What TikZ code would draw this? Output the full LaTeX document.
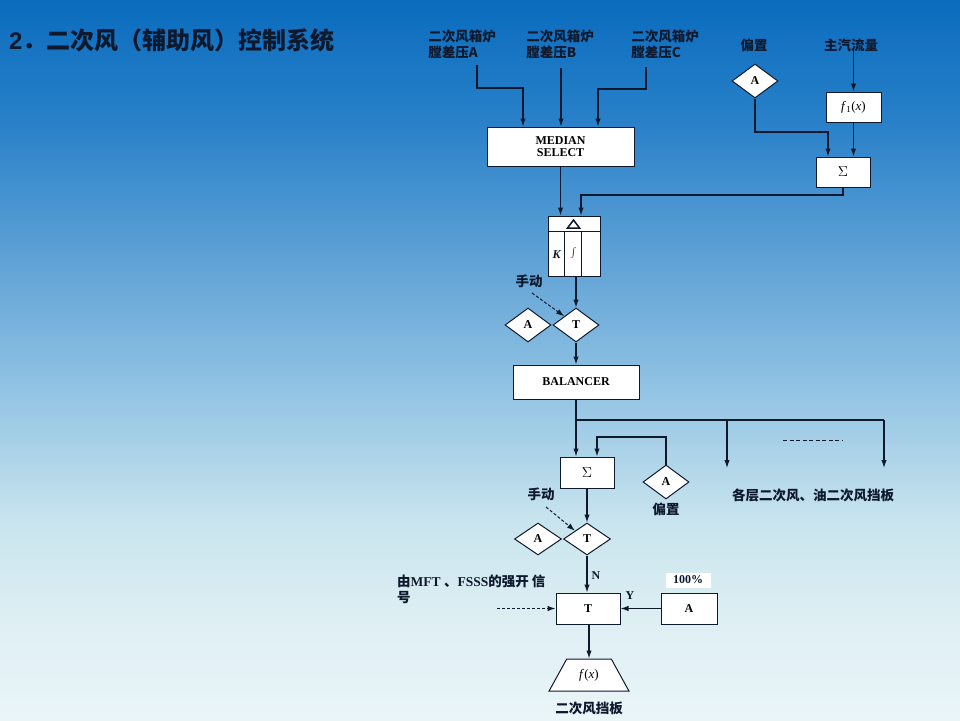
\documentclass[tikz,border=0pt]{standalone}
\usepackage{fontspec}
\setmainfont{Liberation Serif}
\newfontfamily\cjk{Noto Sans CJK SC}
\newfontfamily\arial{Liberation Sans}
\usetikzlibrary{arrows.meta,shapes.geometric}
\definecolor{lc}{RGB}{15,25,45}
\definecolor{g0}{RGB}{10,108,190}
\definecolor{g1}{RGB}{40,128,200}
\definecolor{g2}{RGB}{95,162,214}
\definecolor{g3}{RGB}{150,198,228}
\definecolor{g4}{RGB}{200,228,238}
\definecolor{g5}{RGB}{222,239,243}
\definecolor{g6}{RGB}{234,245,248}
\tikzset{
  box/.style={draw=lc, fill=white, line width=1pt, inner sep=0pt, font=\bfseries\fontsize{12}{13}\selectfont, align=center},
  dia/.style={diamond, draw=lc, fill=white, line width=1pt, inner sep=0pt, minimum width=46pt, minimum height=34pt, font=\bfseries\fontsize{12}{13}\selectfont},
  lbl/.style={inner sep=0pt, font=\cjk\bfseries\fontsize{13.5}{16}\selectfont, text=lc, align=left},
  ltr/.style={inner sep=0pt, font=\bfseries\fontsize{12}{13}\selectfont, text=lc},
  arr/.style={draw=lc, line width=1.2pt, -{Latex[length=8pt,width=5.5pt]}},
  ln/.style={draw=lc, line width=1.2pt},
}
\begin{document}
\begin{tikzpicture}[x=1pt,y=-1pt]
% background
\useasboundingbox (0,0) rectangle (960,720);
\shade[top color=g0,bottom color=g1] (0,0) rectangle (960,120);
\shade[top color=g1,bottom color=g2] (0,120) rectangle (960,260);
\shade[top color=g2,bottom color=g3] (0,260) rectangle (960,400);
\shade[top color=g3,bottom color=g4] (0,400) rectangle (960,520);
\shade[top color=g4,bottom color=g5] (0,520) rectangle (960,620);
\shade[top color=g5,bottom color=g6] (0,620) rectangle (960,720);

% title
\node[anchor=west, inner sep=0pt, text=lc] (title) at (9,40) {\arial\bfseries\fontsize{24}{26}\selectfont 2{\cjk\bfseries\fontsize{24}{28}\selectfont ．二次风（辅助风）控制系统}};

% inputs
\node[lbl] (inA) at (462,44) {二次风箱炉\\膛差压A};
\node[lbl] (inB) at (560,44) {二次风箱炉\\膛差压B};
\node[lbl] (inC) at (665,44) {二次风箱炉\\膛差压C};
\node[box, minimum width=147pt, minimum height=39pt] (med) at (560.5,146.5) {MEDIAN\\[-1pt]SELECT};
\coordinate (aS) at (477,65);
\coordinate (bS) at (561,68);
\coordinate (cS) at (646,67);
\draw[arr] (aS) -- (477,88) -| ([xshift=-37.5pt]med.north);
\draw[arr] (bS) -- ([xshift=0.5pt]med.north);
\draw[arr] (cS) -- (646,89) -| ([xshift=37.5pt]med.north);

% top right
\node[lbl] (bias1) at (754,45) {偏置};
\node[lbl] (ms) at (851,45) {主汽流量};
\node[dia] (A0) at (755,81) {A};
\node[box, minimum width=55pt, minimum height=30pt, font=\fontsize{13}{14}\selectfont] (f1) at (853.5,107) {\textit{f}\textsubscript{1}(\textit{x})};
\node[box, minimum width=54pt, minimum height=30pt, font=\fontsize{15}{16}\selectfont] (sumR) at (843,172) {$\Sigma$};
\draw[arr] ([yshift=6pt]ms.south -| f1.north) -- (f1.north);
\draw[arr] (f1.south) -- (f1.south |- sumR.north);
\draw[arr] (A0.south) -- (755,132) -| ([xshift=-15pt]sumR.north);

% PID block
\node[box, minimum width=52pt, minimum height=60pt] (pid) at (574,246) {};
\draw[draw=lc, line width=1pt] ([yshift=-16pt]pid.north west) -- ([yshift=-16pt]pid.north east);
\draw[draw=lc, line width=1pt] ([xshift=17pt,yshift=-16pt]pid.north west) -- ([xshift=17pt]pid.south west);
\draw[draw=lc, line width=1pt] ([xshift=34pt,yshift=-16pt]pid.north west) -- ([xshift=34pt]pid.south west);
\draw[draw=lc, line width=1.5pt, line join=miter] (567.5,228) -- (579.5,228) -- (573.5,220) -- cycle;
\node[inner sep=0pt, font=\bfseries\itshape\fontsize{12}{13}\selectfont, text=lc] (kk) at (556.5,255) {K};
\node[inner sep=0pt, font=\fontsize{9}{9}\selectfont, text=lc] (int) at (573.5,253) {$\int$};
\draw[arr] (med.south) -- (med.south |- pid.north);
\draw[arr] (sumR.south) -- (843,195) -| ([xshift=7pt]pid.north);

% manual switch 1
\node[lbl] (m1) at (529,281) {手动};
\node[dia] (T1) at (576,325) {T};
\node[dia] (A1) at (528,325) {A};
\draw[arr] (T1.north |- pid.south) -- (T1.north);
\draw[arr, line width=1pt, dash pattern=on 3pt off 2pt] (532,293) -- (T1.north west);

% balancer
\node[box, minimum width=126pt, minimum height=34pt] (bal) at (576,382) {BALANCER};
\draw[arr] (T1.south) -- (T1.south |- bal.north);
\coordinate (j) at (576,420);
\coordinate (d1) at (727,468);
\coordinate (d2) at (884,468);
\node[box, minimum width=54pt, minimum height=31pt, font=\fontsize{15}{16}\selectfont] (sum2) at (587,472.5) {$\Sigma$};
\draw[ln] (bal.south) -- (j) -- (884,420);
\draw[arr] (j) -- ([xshift=-11pt]sum2.north);
\draw[arr] (727,420) -- (d1);
\draw[arr] (884,420) -- (d2);
\draw[draw=lc, line width=1pt, dash pattern=on 4pt off 2.5pt] (783,440) -- (842,440);
\node[dia] (A2) at (666,482) {A};
\node[lbl] (bias2) at (666,509) {偏置};
\draw[arr] (A2.north) |- (597,437) -- ([xshift=10pt]sum2.north);
\node[lbl] (dest) at (813,495) {各层二次风、油二次风挡板};

% manual switch 2
\node[lbl] (m2) at (541,494) {手动};
\node[dia, minimum width=47pt, minimum height=32pt] (T2) at (587,539) {T};
\node[dia, minimum width=47pt, minimum height=32pt] (A2b) at (538,539) {A};
\draw[arr] (sum2.south) -- (T2.north);
\draw[arr, line width=1pt, dash pattern=on 3pt off 2pt] (546,507) -- (T2.north west);

% forced open selector
\node[box, minimum width=64pt, minimum height=31pt] (Tb) at (588,608.5) {T};
\node[box, minimum width=56pt, minimum height=31pt] (Ab) at (689,608.5) {A};
\node[ltr, fill=white, minimum width=45pt, minimum height=15pt] (pct) at (688,580) {100\%};
\node[ltr] (N) at (596,576) {N};
\node[ltr] (Y) at (630,596) {Y};
\node[lbl, anchor=north west] (mft) at (397,575) {由{\rmfamily\bfseries MFT }、{\rmfamily\bfseries FSSS}的强开 信\\号};
\coordinate (mftS) at (497,608.5);
\draw[arr] (T2.south) -- (T2.south |- Tb.north);
\draw[arr, line width=1pt, dash pattern=on 3pt off 2pt] (mftS) -- (Tb.west);
\draw[arr] (Ab.west) -- (Tb.east);

% output
\node[trapezium, trapezium stretches=true, draw=lc, fill=white, line width=1pt, minimum width=80pt, minimum height=32pt, trapezium angle=57, inner sep=0pt, font=\fontsize{13}{14}\selectfont] (fx) at (589,675) {\textit{f}(\textit{x})};
\draw[arr] (Tb.south -| fx.north) -- (fx.north);
\node[lbl] (out) at (589,708) {二次风挡板};
\end{tikzpicture}
\end{document}
